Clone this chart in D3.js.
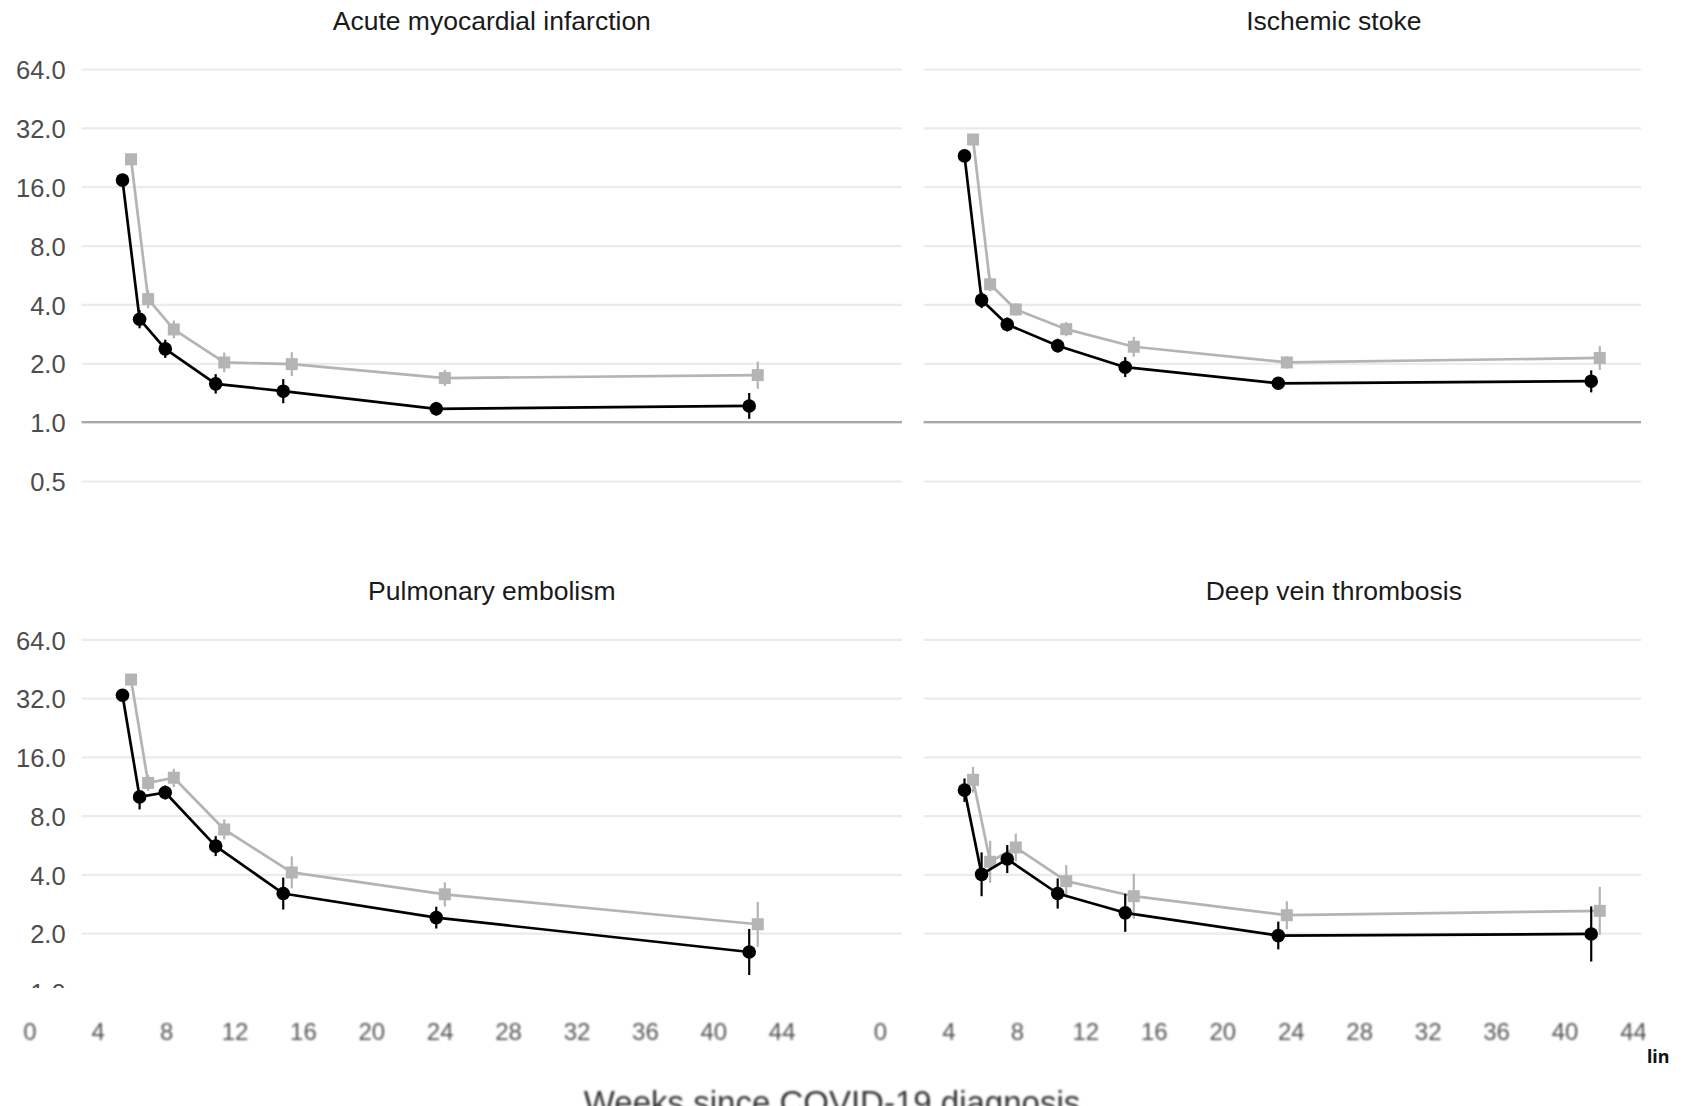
<!DOCTYPE html>
<html>
<head>
<meta charset="utf-8">
<script src="https://cdn.jsdelivr.net/npm/d3@7"></script>
<style>
  body { margin: 0; background: #fff; }
  svg { display: block; font-family: "Liberation Sans", Arial, sans-serif; }
</style>
</head>
<body>
<div id="chart"></div>
<script>
// panel titles, left to right then top to bottom
var titles = ['Acute myocardial infarction', 'Ischemic stoke', 'Pulmonary embolism', 'Deep vein thrombosis'];

// time points (weeks) of the black series; grey one is dodged a bit to the right
var weeks = [5.45, 6.45, 7.95, 10.9, 14.85, 23.8, 42.1];
var dodge = 0.5;

var yTicks = [0.5, 1, 2, 4, 8, 16, 32, 64];
var xTicks = [0, 4, 8, 12, 16, 20, 24, 28, 32, 36, 40, 44];

// acute myocardial infarction
var amiHR  = [17.3, 3.36, 2.37, 1.57, 1.44, 1.17, 1.21];
var amiLo  = [16.5, 3.02, 2.13, 1.40, 1.25, 1.08, 1.04];
var amiHi  = [18.1, 3.74, 2.64, 1.76, 1.66, 1.27, 1.41];
var amiHR2 = [22.1, 4.26, 2.98, 2.02, 1.98, 1.68, 1.74];
var amiLo2 = [21.1, 3.83, 2.68, 1.80, 1.72, 1.53, 1.48];
var amiHi2 = [23.2, 4.74, 3.31, 2.27, 2.28, 1.85, 2.04];

// ischemic stroke
var isHR  = [23.0, 4.21, 3.16, 2.46, 1.91, 1.58, 1.62];
var isLo  = [21.9, 3.83, 2.91, 2.27, 1.70, 1.49, 1.42];
var isHi  = [24.1, 4.63, 3.43, 2.67, 2.15, 1.68, 1.84];
var isHR2 = [27.9, 5.07, 3.77, 2.99, 2.43, 2.02, 2.13];
var isLo2 = [26.6, 4.67, 3.51, 2.75, 2.16, 1.88, 1.85];
var isHi2 = [29.2, 5.51, 4.05, 3.25, 2.73, 2.17, 2.45];

// pulmonary embolism
var peHR  = [33.1, 9.97, 10.5, 5.58, 3.19, 2.40, 1.60];
var peLo  = [31.6, 8.60, 9.67, 4.96, 2.64, 2.11, 1.22];
var peHi  = [34.7, 10.8, 11.4, 6.28, 3.85, 2.73, 2.10];
var peHR2 = [39.8, 11.76, 12.5, 6.79, 4.09, 3.16, 2.22];
var peLo2 = [38.0, 10.7, 11.2, 6.04, 3.39, 2.74, 1.70];
var peHi2 = [41.7, 12.9, 13.9, 7.64, 4.94, 3.64, 2.89];

// deep vein thrombosis
var dvtHR  = [10.8, 4.00, 4.79, 3.19, 2.54, 1.94, 1.98];
var dvtLo  = [9.40, 3.09, 4.06, 2.67, 2.03, 1.65, 1.43];
var dvtHi  = [12.4, 5.18, 5.65, 3.81, 3.18, 2.29, 2.74];
var dvtHR2 = [12.2, 4.64, 5.49, 3.69, 3.09, 2.47, 2.60];
var dvtLo2 = [10.5, 3.62, 4.66, 3.05, 2.37, 2.09, 1.96];
var dvtHi2 = [14.2, 5.94, 6.47, 4.46, 4.03, 2.91, 3.45];

var series = [
  [[amiHR, amiLo, amiHi], [amiHR2, amiLo2, amiHi2]],
  [[isHR, isLo, isHi], [isHR2, isLo2, isHi2]],
  [[peHR, peLo, peHi], [peHR2, peLo2, peHi2]],
  [[dvtHR, dvtLo, dvtHi], [dvtHR2, dvtLo2, dvtHi2]]
];

var w = 1684, h = 1106;
var colX = [81.6, 923.6], panelW = 820.4;
var rowY = [[481, 69], [1050.6, 639.3]];
var titleY = [30, 600];
var stripRange = [[29.3, 781.7], [880, 1633]];
var black = '#000', grey = '#b4b4b4';

var svg = d3.select('#chart').append('svg')
    .attr('width', w)
    .attr('height', h);

var defs = svg.append('defs');
defs.append('filter').attr('id', 'blur')
    .attr('x', '-10%').attr('y', '-50%').attr('width', '120%').attr('height', '200%')
  .append('feGaussianBlur').attr('stdDeviation', 1.1);
defs.append('clipPath').attr('id', 'clipTop')
  .append('rect').attr('x', 0).attr('y', 0).attr('width', 1641).attr('height', 540);
defs.append('clipPath').attr('id', 'clipBottom')
  .append('rect').attr('x', 0).attr('y', 540).attr('width', 1641).attr('height', 448);
defs.append('clipPath').attr('id', 'clipStrip')
  .append('rect').attr('x', 0).attr('y', 988).attr('width', 1646).attr('height', 118);

for (var p = 0; p < 4; p++) {
  var row = Math.floor(p / 2), col = p % 2;
  var x0 = colX[col];

  var x = d3.scaleLinear().domain([0, 44]).range([x0 - 52.3, x0 - 52.3 + 752.4]);
  var y = d3.scaleLog().base(2).domain([0.5, 64]).range(rowY[row]);

  var g = svg.append('g').attr('clip-path', row == 0 ? 'url(#clipTop)' : 'url(#clipBottom)');

  // gridlines + y labels
  var yAxis = g.append('g')
      .attr('transform', 'translate(' + x0 + ',0)')
      .call(d3.axisLeft(y)
        .tickValues(yTicks)
        .tickSize(-panelW)
        .tickPadding(16)
        .tickFormat(col == 0 ? d3.format('.1f') : ''));
  yAxis.select('.domain').remove();
  yAxis.selectAll('line').attr('stroke', '#ebebeb').attr('stroke-width', 2.2);
  yAxis.selectAll('text')
      .attr('dy', '0.38em')
      .attr('fill', '#4d4d4d')
      .style('font-size', '25.5px');

  // reference line at 1
  g.append('line')
      .attr('x1', x0).attr('x2', x0 + panelW)
      .attr('y1', y(1)).attr('y2', y(1))
      .attr('stroke', '#a8a8a8').attr('stroke-width', 2.4);

  // grey first, black on top
  [1, 0].forEach(function(s) {
    var hr = series[p][s][0], lo = series[p][s][1], hi = series[p][s][2];
    var off = s == 1 ? dodge : 0;
    var colour = s == 1 ? grey : black;
    var pts = weeks.map(function(wk, i) { return {wk: wk + off, hr: hr[i], lo: lo[i], hi: hi[i]}; });

    g.append('path')
        .datum(pts)
        .attr('fill', 'none')
        .attr('stroke', colour)
        .attr('stroke-width', 2.7)
        .attr('stroke-linejoin', 'round')
        .attr('d', d3.line()
          .x(function(d) { return x(d.wk); })
          .y(function(d) { return y(d.hr); }));

    g.selectAll('.eb' + s).data(pts).enter().append('line')
        .attr('class', 'eb' + s)
        .attr('x1', function(d) { return x(d.wk); })
        .attr('x2', function(d) { return x(d.wk); })
        .attr('y1', function(d) { return y(d.lo); })
        .attr('y2', function(d) { return y(d.hi); })
        .attr('stroke', colour)
        .attr('stroke-width', 2.2);

    if (s == 1) {
      g.selectAll('.sq').data(pts).enter().append('rect')
          .attr('class', 'sq')
          .attr('x', function(d) { return x(d.wk) - 6; })
          .attr('y', function(d) { return y(d.hr) - 6; })
          .attr('width', 12).attr('height', 12)
          .attr('fill', grey);
    } else {
      g.selectAll('.dot').data(pts).enter().append('circle')
          .attr('class', 'dot')
          .attr('cx', function(d) { return x(d.wk); })
          .attr('cy', function(d) { return y(d.hr); })
          .attr('r', 6.8)
          .attr('fill', black);
    }
  });

  // panel title
  svg.append('text')
      .attr('x', x0 + panelW / 2)
      .attr('y', titleY[row])
      .attr('text-anchor', 'middle')
      .attr('fill', '#1a1a1a')
      .style('font-size', '26.5px')
      .text(titles[p]);
}

// blurry x axis strip underneath
var strip = svg.append('g').attr('clip-path', 'url(#clipStrip)')
  .append('g').attr('filter', 'url(#blur)');

stripRange.forEach(function(r) {
  var xs = d3.scaleLinear().domain([0, 44]).range(r);
  var ax = strip.append('g')
      .attr('transform', 'translate(0,1023)')
      .call(d3.axisBottom(xs).tickValues(xTicks).tickSize(0).tickPadding(0));
  ax.select('.domain').remove();
  ax.selectAll('text')
      .attr('fill', '#555')
      .style('font-size', '24px');
});

// axis title, cut by the bottom edge as in the source
strip.append('text')
    .attr('x', 832)
    .attr('y', 1114)
    .attr('text-anchor', 'middle')
    .attr('fill', '#333')
    .style('font-size', '33px')
    .text('Weeks since COVID-19 diagnosis');

svg.append('text')
    .attr('x', 1647)
    .attr('y', 1063)
    .attr('fill', '#111')
    .style('font-family', '"Noto Sans", sans-serif')
    .style('font-weight', 'bold')
    .style('font-size', '18px')
    .text('lin');
</script>
</body>
</html>
